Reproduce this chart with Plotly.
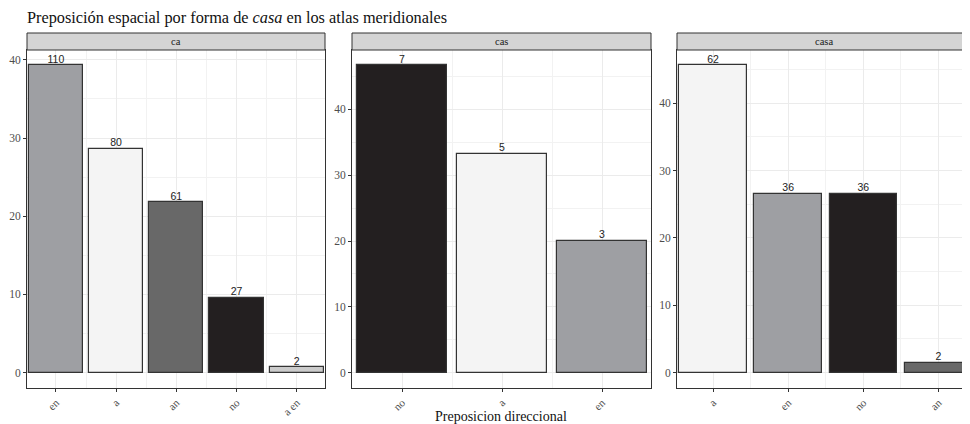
import plotly.graph_objects as go

# ---- data ----
panels = ["ca", "cas", "casa"]

ca_cats = ["en", "a", "an", "no", "a en"]
ca_pct = [39.3, 28.6, 21.8, 9.6, 0.7]
ca_n = [110, 80, 61, 27, 2]

cas_cats = ["no", "a", "en"]
cas_pct = [46.7, 33.3, 20.0]
cas_n = [7, 5, 3]

casa_cats = ["a", "en", "no", "an"]
casa_pct = [45.6, 26.5, 26.5, 1.5]
casa_n = [62, 36, 36, 2]

y_ticks = [0, 10, 20, 30, 40]

title_text = "Preposición espacial por forma de <i>casa</i> en los atlas meridionales"
x_title = "Preposicion direccional"

# ---- styles ----
colors = {"en": "#9e9fa3", "a": "#f4f4f4", "an": "#686868", "no": "#231f20", "a en": "#cbcbcb"}
OFF = 8  # page body margin
W, H = 970 - OFF, 424 - OFF
MT, MB = 50 - OFF, 424 - 388
plot_h = H - MT - MB
serif = "Liberation Serif, Times New Roman, serif"
sans = "Liberation Sans, Arial, sans-serif"

# pixel domains of each panel (screen px)
dom_px = [(27, 325), (352, 651), (677, 970)]
x_pad_left = [0.48, 0.5, 0.48]
x_right_end = [4.47, 2.49, 3.42]

data = [(ca_cats, ca_pct, ca_n), (cas_cats, cas_pct, cas_n), (casa_cats, casa_pct, casa_n)]


def px(x):
    return (x - OFF) / W


fig = go.Figure()
shapes = []
annotations = []
for i, (cats, pct, n) in enumerate(data):
    k = "" if i == 0 else str(i + 1)
    xs = list(range(len(cats)))
    fig.add_trace(go.Bar(
        x=xs, y=pct, width=0.9,
        marker=dict(color=[colors[c] for c in cats], line=dict(color="#333333", width=1.2)),
        showlegend=False, xaxis="x" + k, yaxis="y" + k, hoverinfo="skip",
    ))
    fig.add_trace(go.Scatter(
        x=xs, y=pct, mode="text", text=[str(v) for v in n],
        textposition="top center", marker=dict(size=1),
        textfont=dict(family=sans, size=10.5, color="#222222"),
        cliponaxis=False, showlegend=False,
        xaxis="x" + k, yaxis="y" + k, hoverinfo="skip",
    ))
    ymax = max(pct)
    x0, x1 = dom_px[i]
    fig.layout["xaxis" + k] = dict(
        domain=[px(x0), min(1, px(x1))], anchor="y" + k,
        range=[-x_pad_left[i], x_right_end[i]],
        tickmode="array", tickvals=xs, ticktext=cats, tickangle=-45,
        tickfont=dict(family=serif, size=11, color="#4d4d4d"),
        ticks="outside", ticklen=3, tickcolor="#333333",
        showgrid=True, gridcolor="#ebebeb", gridwidth=1,
        minor=dict(tickvals=[v + 0.5 for v in xs], showgrid=True, gridcolor="#f2f2f2", gridwidth=0.6, ticks=""),
        showline=True, linecolor="#333333", linewidth=1, mirror=True,
        zeroline=False, automargin=False, fixedrange=True,
    )
    fig.layout["yaxis" + k] = dict(
        domain=[0, 1], anchor="x" + k,
        range=[-0.05 * ymax, 1.05 * ymax],
        tickmode="array", tickvals=y_ticks,
        tickfont=dict(family=serif, size=11.5, color="#4d4d4d"),
        ticks="outside", ticklen=3, tickcolor="#333333",
        showgrid=True, gridcolor="#ebebeb", gridwidth=1,
        minor=dict(tickvals=[v + 5 for v in y_ticks], showgrid=True, gridcolor="#f2f2f2", gridwidth=0.6, ticks=""),
        showline=True, linecolor="#333333", linewidth=1, mirror=True,
        zeroline=False, automargin=False, fixedrange=True,
    )
    # strip header
    strip_h = 17 / plot_h
    shapes.append(dict(type="rect", xref="paper", yref="paper",
                       x0=px(x0), x1=min(1, px(x1)), y0=1, y1=1 + strip_h,
                       fillcolor="#d4d4d4", line=dict(color="#333333", width=1), layer="above"))
    annotations.append(dict(text=panels[i], xref="paper", yref="paper",
                            x=px((x0 + x1) / 2), y=1 + strip_h / 2, showarrow=False,
                            xanchor="center", yanchor="middle",
                            font=dict(family=serif, size=10.5, color="#1a1a1a")))

annotations.append(dict(text=x_title, xref="paper", yref="paper",
                        x=px(501), y=-(416 - 388) / plot_h, showarrow=False,
                        xanchor="center", yanchor="middle",
                        font=dict(family=serif, size=14, color="#111111")))

fig.update_layout(
    width=W, height=H,
    margin=dict(l=0, r=0, t=MT, b=MB),
    paper_bgcolor="white", plot_bgcolor="white",
    title=dict(text=title_text, x=px(27), xanchor="left", xref="paper",
               y=1 - (17 - OFF) / H, yref="container", yanchor="middle",
               font=dict(family=serif, size=16.3, color="#111111")),
    shapes=shapes, annotations=annotations,
    bargap=0,
)

fig.write_html("out.html")
